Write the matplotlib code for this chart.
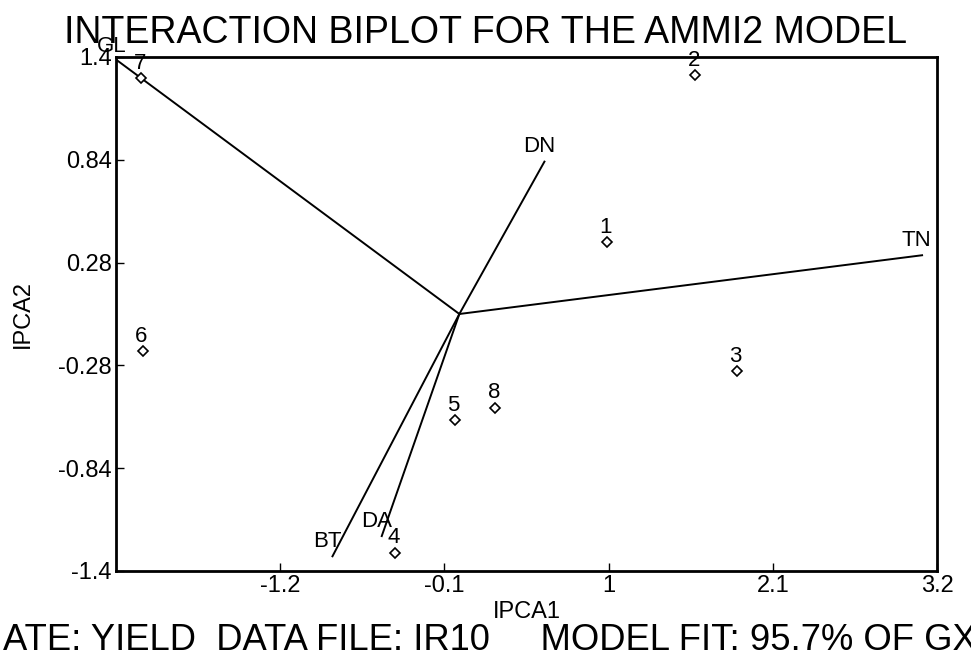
import matplotlib
matplotlib.use("Agg")
import matplotlib.pyplot as plt

plt.rcParams['font.family'] = ['Liberation Sans', 'DejaVu Sans']

# genotype scores (IPCA1, IPCA2)
gen_names = ['1', '2', '3', '4', '5', '6', '7', '8']
gen_x = [0.99, 1.58, 1.86, -0.43, -0.03, -2.12, -2.13, 0.24]
gen_y = [0.39, 1.30, -0.31, -1.30, -0.58, -0.20, 1.285, -0.51]

# environment vectors
env_names = ['GL', 'DN', 'TN', 'BT', 'DA']
env_x = [-2.29, 0.57, 3.10, -0.85, -0.52]
env_y = [1.38, 0.83, 0.32, -1.32, -1.21]

xticks = [-1.2, -0.1, 1, 2.1, 3.2]
yticks = [-1.4, -0.84, -0.28, 0.28, 0.84, 1.4]

fig = plt.figure(figsize=(9.71, 6.62), dpi=100)
ax = fig.add_axes([0.1195, 0.1375, 0.8455, 0.7764])

for name, x, y in zip(env_names, env_x, env_y):
    ax.plot([0, x], [0, y], color='black', lw=1.4)
    ax.annotate(name, (x, y), xytext=(-4, 3), textcoords='offset points',
                ha='center', va='bottom', fontsize=16, annotation_clip=False)

ax.plot(gen_x, gen_y, 'D', ms=5.5, mfc='white', mec='black', mew=1.2, zorder=3)
for name, x, y in zip(gen_names, gen_x, gen_y):
    ax.annotate(name, (x, y), xytext=(-1, 3), textcoords='offset points',
                ha='center', va='bottom', fontsize=16)

ax.set_xlim(-2.3, 3.2)
ax.set_ylim(-1.4, 1.4)
ax.set_xticks(xticks)
ax.set_xticklabels([str(t) for t in xticks])
ax.set_yticks(yticks)
ax.set_yticklabels([str(t) for t in yticks])
ax.tick_params(direction='in', length=6, width=1, labelsize=17, pad=3)
for s in ax.spines.values():
    s.set_linewidth(2)

ax.set_xlabel('IPCA1', fontsize=17, labelpad=3)
ax.set_ylabel('IPCA2', fontsize=17)
ax.yaxis.set_label_coords(-0.1, 0.5)

fig.text(0.5, 0.95, 'INTERACTION BIPLOT FOR THE AMMI2 MODEL',
         ha='center', va='center', fontsize=27)
fig.text(0.003, 0.033, 'ATE: YIELD  DATA FILE: IR10     MODEL FIT: 95.7% OF GXE',
         ha='left', va='center', fontsize=26.2)

fig.savefig('out.png', dpi=100)
